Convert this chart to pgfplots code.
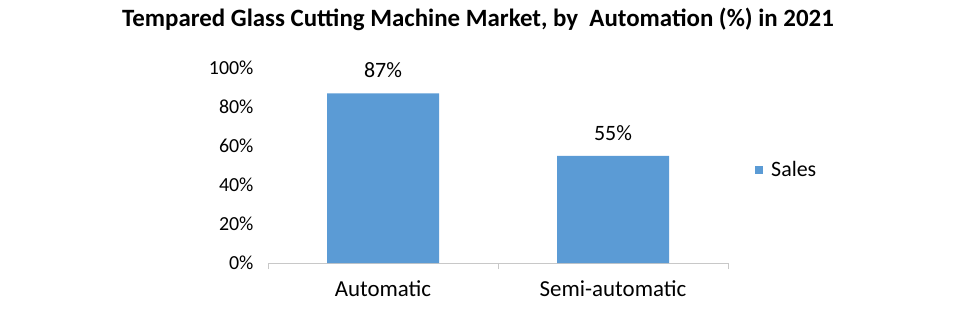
\documentclass[border=0pt]{standalone}
\usepackage{fontspec}
\setmainfont{Carlito}
\usepackage{pgfplots}
\pgfplotsset{compat=1.18}
\definecolor{barblue}{HTML}{5B9BD5}
\definecolor{axgray}{HTML}{C8C8C8}
\begin{document}
\begin{tikzpicture}[x=1bp,y=1bp]
\path[use as bounding box] (-268,-50) rectangle (692,263);
\node[font=\fontsize{25}{28}\selectfont\bfseries] at (210,244) {Tempared Glass Cutting Machine Market, by\ \ Automation (\%) in 2021};
\begin{axis}[
  at={(0,0)}, anchor=origin,
  scale only axis, width=460bp, height=195bp,
  xmin=0.5, xmax=2.5, ymin=0, ymax=100,
  axis x line*=bottom, axis y line*=left,
  x axis line style={draw=axgray, -},
  y axis line style={draw=none},
  /pgf/number format/assume math mode=true,
  xtick={0.5,1.5,2.5}, xticklabels={},
  major tick length=6bp,
  xtick style={draw=axgray},
  tick align=outside,
  extra x ticks={1,2}, extra x tick labels={Automatic,Semi-automatic},
  extra x tick style={major tick length=0pt, xtick style={draw=none},
    xticklabel style={font=\fontsize{23}{26}\selectfont, yshift=-14bp}},
  ytick={0,20,40,60,80,100},
  yticklabels={0\%,20\%,40\%,60\%,80\%,100\%},
  yticklabel style={font=\fontsize{20}{23}\selectfont, xshift=-5bp},
  ytick style={draw=none},
  ybar, bar width=112bp,
  nodes near coords={\pgfmathprintnumber{\pgfplotspointmeta}\%},
  nodes near coords style={font=\fontsize{22}{25}\selectfont, yshift=12bp, black},
  legend style={at={(1.0587,0.477)}, anchor=west, draw=none, font=\fontsize{22}{25}\selectfont, inner sep=0pt,
    nodes={inner xsep=8bp}},
  legend image code/.code={\fill[barblue] (0bp,-4bp) rectangle (8bp,4bp);},
  clip=false,
]
\addplot[fill=barblue, draw=none] coordinates {(1,87) (2,55)};
\legend{Sales}
\end{axis}
\end{tikzpicture}
\end{document}
